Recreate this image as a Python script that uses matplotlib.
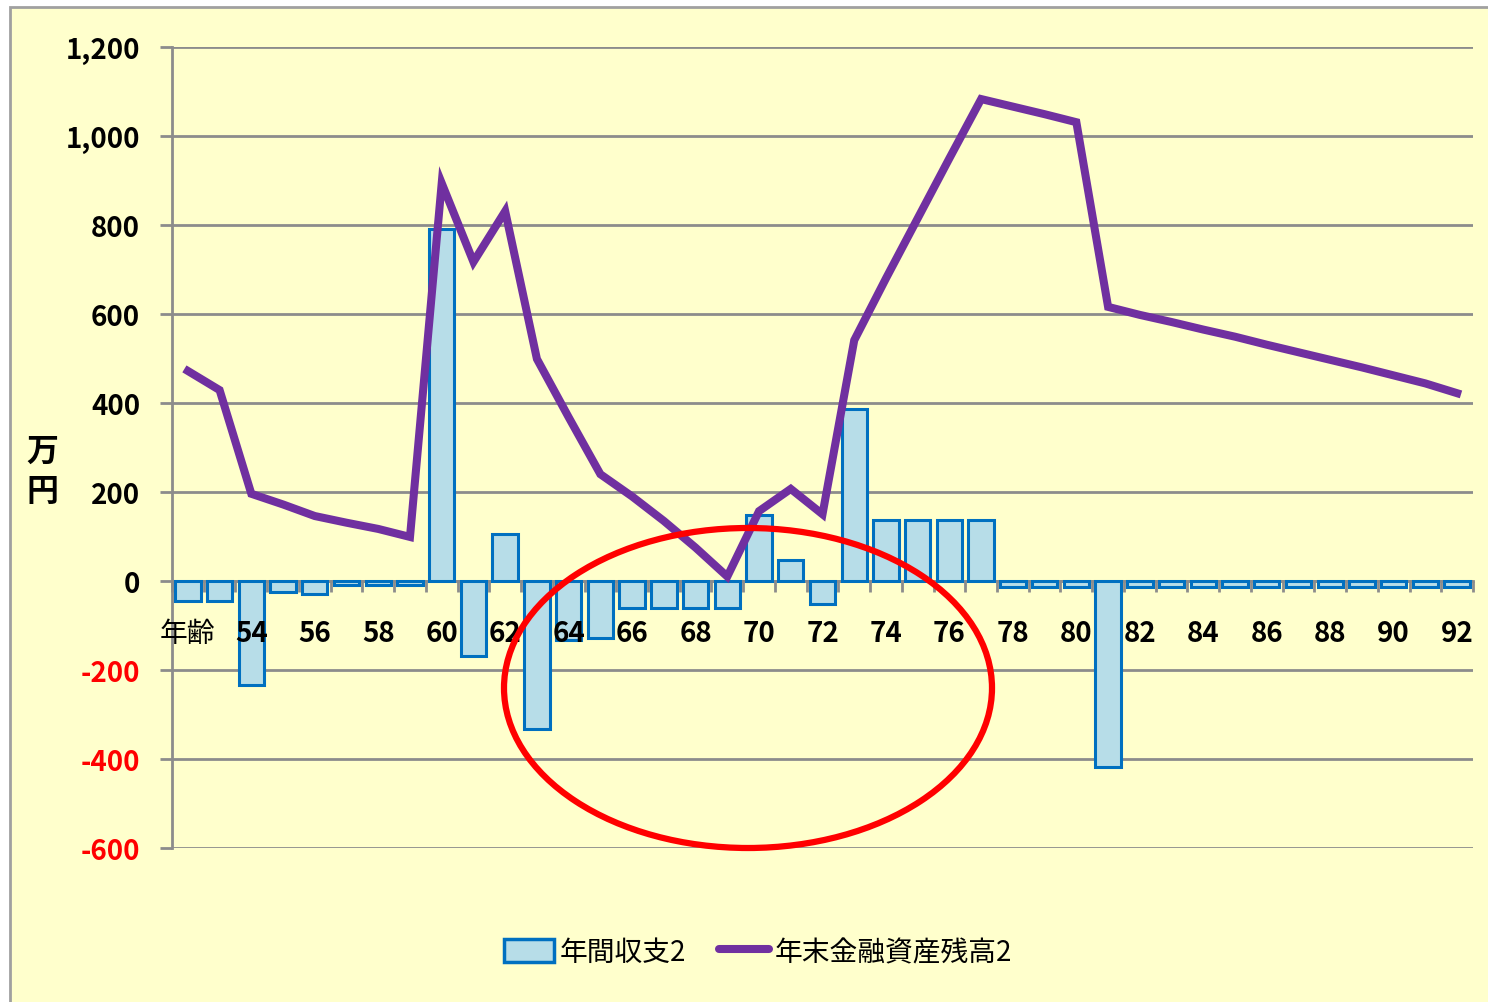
import matplotlib
matplotlib.use("Agg")
import numpy as np
from matplotlib import pyplot as plt
from matplotlib.patches import Ellipse, Rectangle, Patch
from matplotlib.lines import Line2D

plt.rcParams['font.family'] = ['Noto Sans CJK JP', 'DejaVu Sans']

# ages 52..92, first category labelled 年齢
ages = list(range(52, 93))
tick_labels = ['年齢'] + ['' if a % 2 else str(a) for a in ages[1:]]

# 年間収支2 (万円)
annual = [-45, -45, -234, -25, -30, -10, -10, -8, 791, -168,
          106, -333, -133, -128, -60, -60, -60, -60, 148, 47,
          -52, 387, 137, 137, 137, 137, -13, -13, -13, -418,
          -13, -13, -13, -13, -13, -13, -13, -13, -13, -13, -13]

# 年末金融資産残高2 (万円)
balance = [472, 429, 196, 172, 146, 131, 117, 99, 894, 717,
           831, 499, 368, 240, 190, 135, 75, 10, 157, 207,
           150, 541, 680, 815, 950, 1083, 1066, 1049, 1031, 616,
           598, 582, 565, 549, 531, 514, 497, 480, 462, 444, 422]

bg = '#FFFFCC'
bar_fill = '#B7DDE8'
bar_edge = '#0070C0'
line_col = '#7030A0'
grid_col = '#8C8C8C'

fig = plt.figure(figsize=(14.88, 10.03), dpi=100)
fig.patch.set_facecolor('white')
# chart area background with grey border on left/top
fig.patches.append(Rectangle((10 / 1488, -0.01), 1.02, 1 - 8 / 1003 + 0.01,
                             transform=fig.transFigure, facecolor=bg,
                             edgecolor='#A0A0A0', linewidth=2, zorder=-5))

ax = fig.add_axes([172 / 1488, 1 - 849 / 1003, (1473 - 172) / 1488, (849 - 48) / 1003])
ax.set_facecolor('none')

x = np.arange(len(ages))
ax.bar(x, annual, width=0.8, color=bar_fill, edgecolor=bar_edge, linewidth=2.2, zorder=3)
ax.plot(x, balance, color=line_col, linewidth=5.8, solid_joinstyle='miter', zorder=4)

ax.set_xlim(-0.5, len(ages) - 0.5)
ax.set_ylim(-600, 1200)
yt = np.arange(-600, 1201, 200)
ax.set_yticks(yt)
ax.set_yticklabels([f'{v:,}' for v in yt], fontsize=20, fontweight='bold')
for lab, v in zip(ax.get_yticklabels(), yt):
    lab.set_color('#FF0000' if v < 0 else 'black')
ax.tick_params(axis='y', length=9, width=2, color=grid_col, pad=14)

ax.grid(axis='y', color=grid_col, linewidth=2, zorder=1)
ax.set_axisbelow(True)

for s in ['top', 'right']:
    ax.spines[s].set_visible(False)
ax.spines['left'].set_color(grid_col)
ax.spines['left'].set_linewidth(2)
ax.spines['bottom'].set_position(('data', 0))
ax.spines['bottom'].set_color(grid_col)
ax.spines['bottom'].set_linewidth(2)
ax.spines['bottom'].set_zorder(2)

ax.set_xticks(x)
ax.set_xticklabels(tick_labels, fontsize=20, fontweight='bold')
ax.set_xticks(np.arange(-0.5, len(ages)), minor=True)
ax.tick_params(axis='x', which='major', length=0, pad=27)
ax.tick_params(axis='x', which='minor', length=8, width=2, color=grid_col)
ax.get_xticklabels()[0].set_fontweight('normal')
# labels sit on top of the bars
ax.xaxis.set_zorder(5)

fig.text(42 / 1488, 1 - 472 / 1003, '万\n円', fontsize=23, fontweight='bold',
         ha='center', va='center', linespacing=1.35)

# red ellipse annotation
fig.patches.append(Ellipse((748 / 1488, 1 - 689 / 1003), 488 / 1488, 320 / 1003,
                           transform=fig.transFigure, fill=False,
                           edgecolor='#FF0000', linewidth=4.5, zorder=10))

handles = [Patch(facecolor=bar_fill, edgecolor=bar_edge, linewidth=2.5),
           Line2D([0], [0], color=line_col, linewidth=5.8, solid_capstyle='round')]
fig.legend(handles, ['年間収支2', '年末金融資産残高2'], loc='center',
           bbox_to_anchor=(758 / 1488, 1 - 953 / 1003), ncol=2, frameon=False,
           fontsize=20, handlelength=1.8, handleheight=0.9, handletextpad=0.2,
           columnspacing=1.2)

fig.savefig('out.png', dpi=100, facecolor=fig.get_facecolor())
